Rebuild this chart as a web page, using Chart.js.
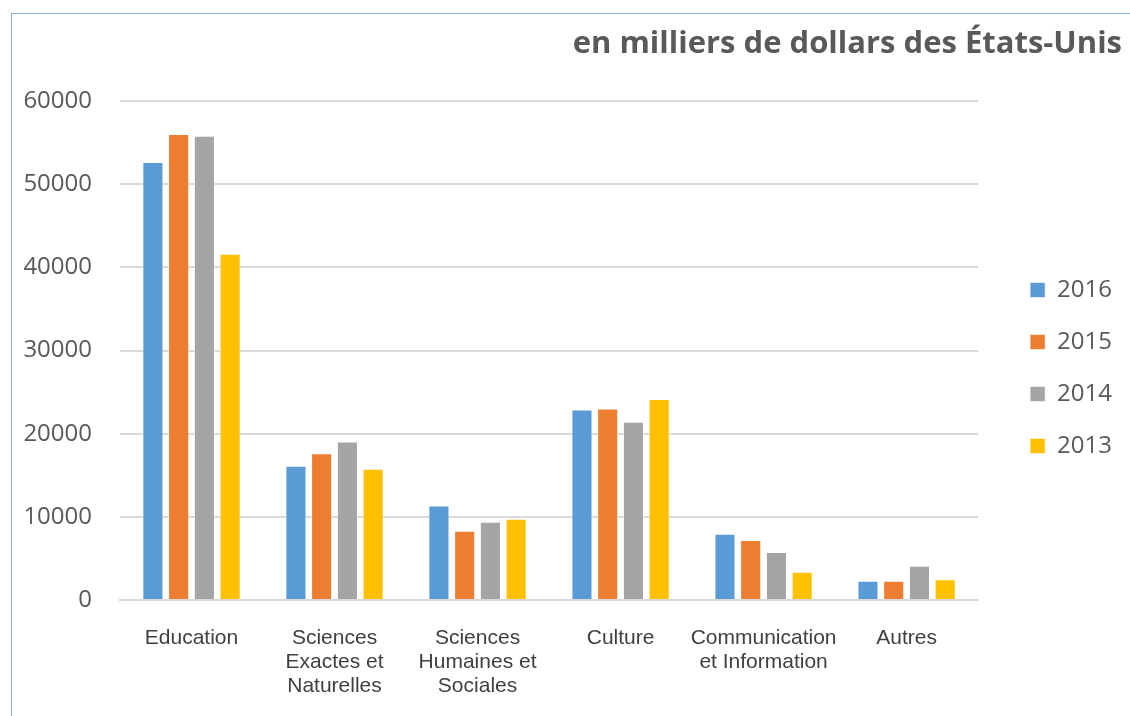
<!DOCTYPE html>
<html>
<head>
<meta charset="utf-8">
<script src="https://cdn.jsdelivr.net/npm/chart.js@4/dist/chart.umd.min.js"></script>
<style>
  body { margin: 0; background: #fff; }
  #wrap { position: relative; width: 1130px; height: 716px; }
  #frame { position: absolute; left: 11px; top: 13px; right: 0; bottom: 0;
           border-left: 1px solid #86afe0; border-top: 1px solid #86afe0; }
  canvas { position: absolute; left: 0; top: 0; }
</style>
</head>
<body>
<div id="wrap">
  <div id="frame"></div>
  <canvas id="myChart" width="1130" height="716"></canvas>
</div>
<script>
var categories = [
  "Education",
  ["Sciences", "Exactes et", "Naturelles"],
  ["Sciences", "Humaines et", "Sociales"],
  "Culture",
  ["Communication", "et Information"],
  "Autres"
]
var years = ["2016", "2015", "2014", "2013"]
var v2016 = [52700, 16150, 11380, 22930, 7970, 2320]
var v2015 = [56050, 17640, 8340, 23050, 7210, 2320]
var v2014 = [55850, 19080, 9420, 21440, 5770, 4120]
var v2013 = [41650, 15790, 9780, 24170, 3400, 2490]
var yTicks = [0, 10000, 20000, 30000, 40000, 50000, 60000]
var colors = ["#5b9bd5", "#ed7d31", "#a5a5a5", "#ffc000"]

var series = [v2016, v2015, v2014, v2013]
var datasets = []
for (var i = 0; i < series.length; i++) {
  datasets.push({
    label: years[i],
    data: series[i],
    backgroundColor: colors[i],
    borderColor: "rgba(255,255,255,0.55)",
    borderWidth: 1,
    categoryPercentage: 0.72,
    barPercentage: 0.82
  })
}

var ctx = document.getElementById("myChart").getContext("2d")
var chart = new Chart(ctx, {
  type: "bar",
  data: { labels: categories, datasets: datasets },
  options: {
    responsive: false,
    animation: false,
    layout: { padding: { left: 20, right: 8, top: 26, bottom: 6 } },
    plugins: {
      title: {
        display: true,
        text: "en milliers de dollars des États-Unis",
        align: "end",
        color: "#595959",
        font: { family: "Open Sans", size: 31, weight: "bold", lineHeight: 1.2 },
        padding: { top: 0, bottom: 38 }
      },
      legend: {
        position: "right",
        labels: {
          color: "#595959",
          font: { family: "Open Sans", size: 24 },
          boxWidth: 15,
          boxHeight: 15,
          padding: 28
        }
      },
      tooltip: { enabled: false }
    },
    scales: {
      y: {
        min: 0,
        max: 60000,
        afterBuildTicks: function(scale) {
          scale.ticks = yTicks.map(function(v) { return { value: v } })
        },
        afterFit: function(scale) { scale.width = 100 },
        grid: { color: "#d9d9d9", lineWidth: 2, drawTicks: false },
        border: { display: false },
        ticks: {
          color: "#595959",
          font: { family: "Open Sans", size: 24 },
          padding: 28,
          callback: function(v) { return String(v) }
        }
      },
      // empty right axis, only keeps space between plot and legend
      y2: {
        position: "right",
        grid: { display: false, drawTicks: false },
        border: { display: false },
        ticks: { display: false },
        afterFit: function(scale) { scale.width = 24 }
      },
      x: {
        grid: { display: false, drawTicks: false },
        border: { color: "#d9d9d9", width: 2 },
        afterFit: function(scale) { scale.height = 110 },
        ticks: {
          color: "#404040",
          font: { family: "Liberation Sans", size: 21, lineHeight: 1.15 },
          padding: 26,
          maxRotation: 0,
          autoSkip: false
        }
      }
    }
  }
})
</script>
</body>
</html>
